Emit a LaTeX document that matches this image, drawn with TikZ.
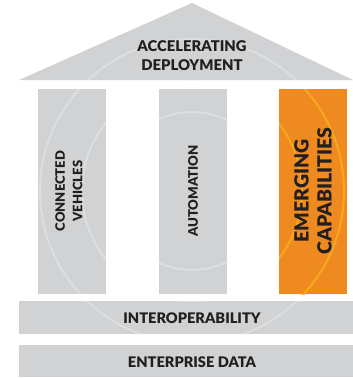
\documentclass[tikz,border=0pt]{standalone}
\usepackage{fontspec}
\setmainfont{Lato}[BoldFont={Lato Black}]
\definecolor{pgray}{HTML}{D1D2D4}
\definecolor{ringgray}{HTML}{DDDEDF}
\definecolor{porange}{HTML}{EF8A21}
\definecolor{ringorange}{HTML}{F6A821}
\definecolor{ink}{HTML}{231F20}
\tikzset{
  lbl/.style={text=ink, font=\bfseries, align=center, inner sep=0pt},
  ring/.style={line width=2pt}
}
\begin{document}
\begin{tikzpicture}[x=1pt,y=-1pt]
\useasboundingbox (0,0) rectangle (353,378);
% shapes
\fill[pgray] (19,80) -- (192,3) -- (353,80) -- cycle;
\fill[pgray] (38,89) rectangle (106,294);
\fill[pgray] (159,89) rectangle (227,294);
\fill[porange] (279,89) rectangle (347,294);
\fill[pgray] (19,301) rectangle (353,334);
\fill[pgray] (19,345) rectangle (353,377);
% faint rings
\begin{scope}
  \clip (19,80) -- (192,3) -- (353,80) -- cycle
        (38,89) rectangle (106,294)
        (159,89) rectangle (227,294)
        (19,301) rectangle (353,334)
        (19,345) rectangle (353,377);
  \draw[ring, ringgray] (192,191) circle[radius=79] (192,191) circle[radius=110] (192,191) circle[radius=152];
\end{scope}
\begin{scope}
  \clip (279,89) rectangle (347,294);
  \draw[ring, ringorange] (192,191) circle[radius=79] (192,191) circle[radius=110] (192,191) circle[radius=152];
\end{scope}
% labels
\node[lbl, font=\fontsize{14.8}{18.5}\selectfont\bfseries] (roof) at (192,55.5) {ACCELERATING\\DEPLOYMENT};
\node[lbl, rotate=90, font=\fontsize{13}{17.5}\selectfont\bfseries] (cv) at (69,191) {CONNECTED\\VEHICLES};
\node[lbl, rotate=90, font=\fontsize{13.2}{17}\selectfont\bfseries] (auto) at (193,191) {AUTOMATION};
\node[lbl, rotate=90, font=\fontsize{19.5}{23}\selectfont\bfseries] (emerg) at (313,191) {EMERGING\\CAPABILITIES};
\node[lbl, font=\fontsize{14.6}{16}\selectfont\bfseries] (interop) at (192,318) {INTEROPERABILITY};
\node[lbl, font=\fontsize{14.6}{16}\selectfont\bfseries] (edata) at (192,362) {ENTERPRISE DATA};
\end{tikzpicture}
\end{document}
